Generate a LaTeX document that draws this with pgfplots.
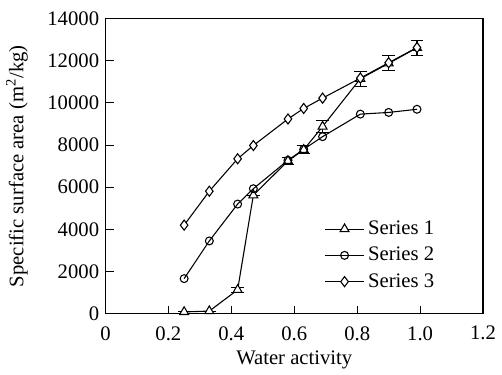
\documentclass[border=0pt]{standalone}
\usepackage{fontspec}
\setmainfont{Liberation Serif}
\usepackage{pgfplots}
\pgfplotsset{compat=1.18}
\begin{document}
\begin{tikzpicture}[font=\fontsize{11.5}{13}\selectfont]
\begin{axis}[
  name=ax,
  scale only axis,
  width=210pt, height=164pt,
  xmin=0, xmax=1.2, ymin=0, ymax=14000,
  xtick={0,0.2,0.4,0.6,0.8,1.0,1.2},
  xticklabels={0,0.2,0.4,0.6,0.8,1.0,1.2},
  ytick={0,2000,4000,6000,8000,10000,12000,14000},
  yticklabels={0,2000,4000,6000,8000,10000,12000,14000},
  scaled y ticks=false,
  /pgf/number format/assume math mode=true,
  tick label style={font=\fontsize{11.5}{13}\selectfont},
  xticklabel style={yshift=-3.5pt},
  label style={font=\fontsize{11.5}{13}\selectfont},
  tick align=inside, xtick pos=bottom, ytick pos=left,
  major tick length=4.5pt,
  tick style={black, line width=0.6pt},
  axis line style={line width=0.7pt},
  xlabel={Water activity}, ylabel={Specific surface area (m\textsuperscript{2}/kg)},
  xlabel style={yshift=1pt}, ylabel style={yshift=4pt},
  legend style={draw=none, fill=none, at={(rel axis cs:0.565,0.34)}, anchor=north west, row sep=1.5pt, font=\fontsize{11.5}{13}\selectfont},
  legend cell align=left,
  legend image code/.code={\draw[mark repeat=2,mark phase=2] plot coordinates {(0cm,0cm) (0.38cm,0cm) (0.76cm,0cm)};},
  cycle list={{black}},
]
\addplot[black, line width=0.6pt, mark=triangle*, mark options={fill=white, solid, scale=1.3}, mark size=2.2pt,
  error bars/.cd, y dir=both, y explicit, error bar style={line width=0.6pt, black}, error mark options={rotate=90, mark size=3.5pt, line width=0.6pt, black}]
 coordinates {
 (0.25,80) +- (0,0)
 (0.33,120) +- (0,0)
 (0.42,1130) +- (0,120)
 (0.47,5620) +- (0,0)
 (0.58,7250) +- (0,150)
 (0.63,7780) +- (0,200)
 (0.69,8880) +- (0,300)
 (0.81,11150) +- (0,350)
 (0.90,11880) +- (0,360)
 (0.99,12620) +- (0,360)
 };
\addlegendentry{Series 1}
\addplot[black, line width=0.6pt, mark=o, mark options={fill=white, solid}, mark size=2.2pt]
 coordinates {
 (0.25,1660) (0.33,3450) (0.42,5200) (0.47,5930) (0.58,7280) (0.63,7800)
 (0.69,8400) (0.81,9470) (0.90,9550) (0.99,9700)
 };
\addlegendentry{Series 2}
\addplot[black, line width=0.6pt, mark=diamond*, mark options={fill=white, solid}, mark size=2.8pt]
 coordinates {
 (0.25,4200) (0.33,5810) (0.42,7350) (0.47,7980) (0.58,9240) (0.63,9740)
 (0.69,10230) (0.81,11180) (0.90,11910) (0.99,12630)
 };
\addlegendentry{Series 3}
\end{axis}
\path (ax.north west) ++(0,10.4pt);
\end{tikzpicture}
\end{document}
